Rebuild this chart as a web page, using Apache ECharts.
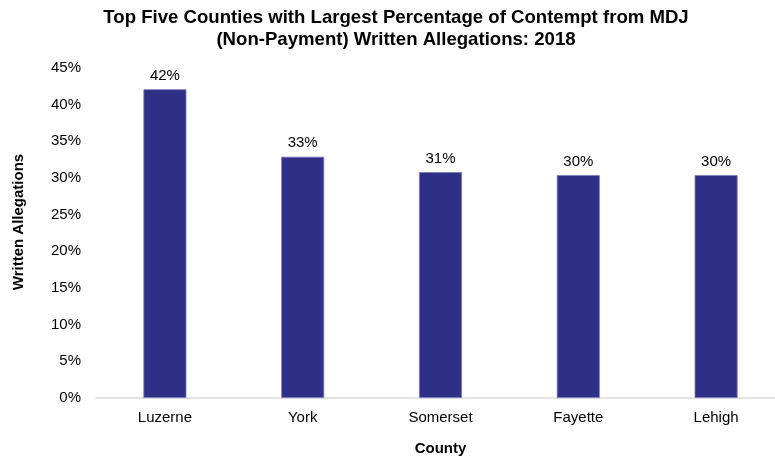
<!DOCTYPE html>
<html lang="en">

<head>
  <meta charset="utf-8">
  <title>Contempt from MDJ</title>
  <script src="https://cdn.jsdelivr.net/npm/echarts@6/dist/echarts.min.js"></script>
  <style>
    html, body { margin: 0; padding: 0; background: #fff; }
    #main { width: 775px; height: 464px; }
  </style>
</head>

<body>
  <div id="main"></div>

  <script>
    // data
    var counties = ['Luzerne', 'York', 'Somerset', 'Fayette', 'Lehigh'];
    var percentages = [42.1, 32.9, 30.8, 30.4, 30.4];

    var font = 'Arial, "Liberation Sans", sans-serif';

    var myChart = echarts.init(document.getElementById('main'));

    var option = {
      animation: false,
      title: {
        text: 'Top Five Counties with Largest Percentage of Contempt from MDJ\n(Non-Payment) Written Allegations: 2018',
        left: 391,
        top: 2,
        textAlign: 'center',
        textStyle: {
          fontFamily: font,
          fontSize: 18.6,
          fontWeight: 'bold',
          color: '#000',
          lineHeight: 22
        }
      },
      // the plot runs a little past the right edge of the canvas
      grid: {
        left: 96,
        width: 689,
        top: 68,
        bottom: 66,
        outerBoundsMode: 'none'
      },
      xAxis: {
        type: 'category',
        data: counties,
        name: 'County',
        nameLocation: 'middle',
        nameGap: 43,
        nameTextStyle: { fontFamily: font, fontSize: 15, fontWeight: 'bold', color: '#000' },
        axisLine: { lineStyle: { color: '#d9d9d9', width: 1.5 } },
        axisTick: { show: false },
        axisLabel: { fontFamily: font, fontSize: 15, color: '#000', margin: 12 }
      },
      yAxis: {
        type: 'value',
        min: 0,
        max: 45,
        interval: 5,
        name: 'Written Allegations',
        nameLocation: 'middle',
        nameGap: 70,
        nameTextStyle: {
          fontFamily: font,
          fontSize: 15,
          fontWeight: 'bold',
          color: '#000',
          padding: [0, 0, 0, 22]
        },
        axisLine: { show: false },
        axisTick: { show: false },
        splitLine: { show: false },
        axisLabel: {
          fontFamily: font,
          fontSize: 15,
          color: '#000',
          margin: 15,
          formatter: '{value}%'
        }
      },
      series: [{
        type: 'bar',
        data: percentages,
        barWidth: 43,
        itemStyle: {
          color: '#2e2f86',
          borderColor: '#7b7cb6',
          borderWidth: 0.8
        },
        label: {
          show: true,
          position: 'top',
          distance: 6,
          fontFamily: font,
          fontSize: 15,
          color: '#000',
          formatter: function (p) {
            return Math.round(p.value) + '%';
          }
        }
      }]
    };

    myChart.setOption(option);
  </script>
</body>

</html>
